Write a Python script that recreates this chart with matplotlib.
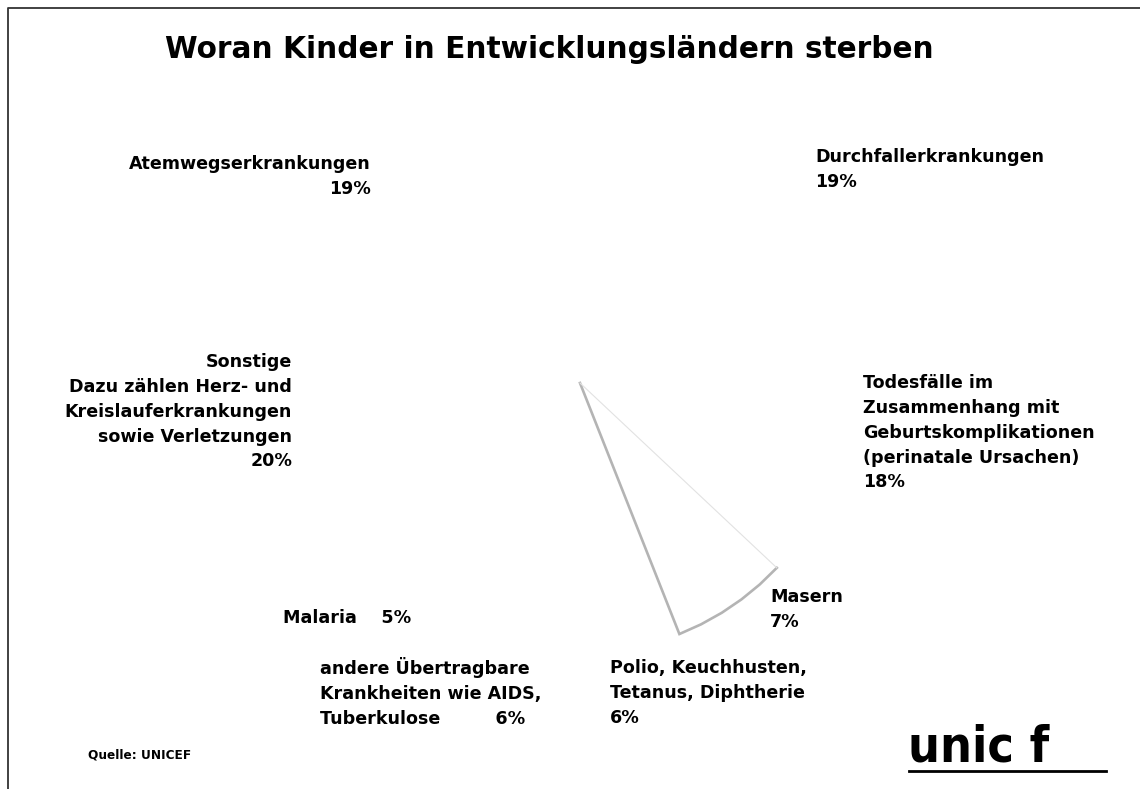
import matplotlib
matplotlib.use('Agg')
import matplotlib.pyplot as plt
import numpy as np

# Kategorien im Uhrzeigersinn ab 12 Uhr
kategorien = ['Durchfallerkrankungen', 'Todesfälle', 'Masern', 'Polio',
              'andere', 'Malaria', 'Sonstige', 'Atemwegserkrankungen']
anteile = [19, 18, 7, 6, 6, 5, 20, 19]
sichtbar = 'Masern'   # nur dieses Segment hat einen Umriss

titel = "Woran Kinder in Entwicklungsländern sterben"
quelle = "Quelle: UNICEF"

W, H = 1140, 789
plt.rcParams['font.family'] = ['DejaVu Sans']

fig = plt.figure(figsize=(W / 100, H / 100), dpi=100)
ax = fig.add_axes([0, 0, 1, 1])

# Kreis: Mittelpunkt und Radius in Pixeln (y nach oben)
wedges, _ = ax.pie(anteile, startangle=90, counterclock=False,
                   center=(580, H - 383), radius=270,
                   colors=['none'] * len(anteile),
                   wedgeprops=dict(linewidth=0))
ax.set_xlim(0, W)
ax.set_ylim(0, H)
ax.set_aspect('auto')
ax.axis('off')

w = wedges[kategorien.index(sichtbar)]
cx, cy = w.center
t = np.radians(np.linspace(w.theta1, w.theta2, 6))
# linke Kante + Bogen kraeftig grau
xs = np.concatenate([[cx], cx + w.r * np.cos(t)])
ys = np.concatenate([[cy], cy + w.r * np.sin(t)])
ax.plot(xs, ys, color='#b4b4b4', lw=1.9, solid_joinstyle='miter')
# rechte Kante nur ganz schwach
ax.plot([cx, cx + w.r * np.cos(t[-1])], [cy, cy + w.r * np.sin(t[-1])],
        color='#e2e2e2', lw=0.8)


def txt(x, y, s, ha='left', size=12.6, ls=1.49, **kw):
    ax.text(x, H - y, s, ha=ha, va='top', fontsize=size, fontweight='bold',
            linespacing=ls, **kw)


txt(549, 35, titel, ha='center', size=21.3)

txt(371, 155, "Atemwegserkrankungen\n19%", ha='right', multialignment='right')
txt(815, 148, "Durchfallerkrankungen\n19%")
txt(292, 353, "Sonstige\nDazu zählen Herz- und\nKreislauferkrankungen\n"
    "sowie Verletzungen\n20%", ha='right', multialignment='right')
txt(863, 374, "Todesfälle im\nZusammenhang mit\nGeburtskomplikationen\n"
    "(perinatale Ursachen)\n18%")
txt(770, 588, "Masern\n7%")
txt(610, 659, "Polio, Keuchhusten,\nTetanus, Diphtherie\n6%")
txt(320, 657, "andere Übertragbare\nKrankheiten wie AIDS,\nTuberkulose         6%")
txt(283, 609, "Malaria    5%")
txt(88, 748, quelle, size=8.7)

# Logo
ax.text(908, H - 762, "unic f", ha='left', va='baseline', fontsize=36,
        fontweight='bold', family='DejaVu Sans', fontstretch='condensed')
ax.plot([909, 1106], [H - 771, H - 771], color='black', lw=2)

# Rahmen links und oben
ax.plot([8, 8, W], [0, H - 8, H - 8], color='#333333', lw=1.3)

fig.savefig('out.png', dpi=100)
